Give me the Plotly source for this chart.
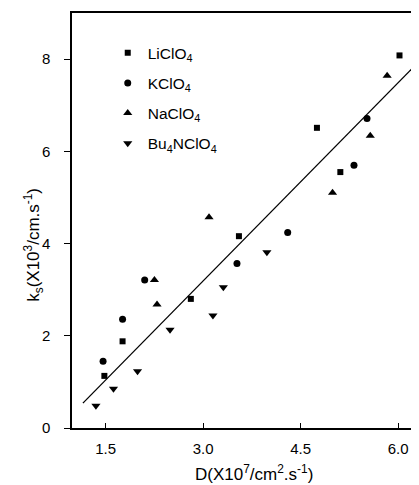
import plotly.graph_objects as go

# Data
li_x = [1.48, 1.76, 2.81, 3.55, 4.75, 5.11, 6.02]
li_y = [1.13, 1.88, 2.80, 4.16, 6.51, 5.55, 8.08]

k_x = [1.46, 1.76, 2.10, 3.52, 4.30, 5.32, 5.52]
k_y = [1.45, 2.36, 3.21, 3.57, 4.24, 5.70, 6.71]

na_x = [2.25, 2.29, 3.09, 4.99, 5.57, 5.83]
na_y = [3.21, 2.68, 4.57, 5.10, 6.34, 7.64]

bu_x = [1.35, 1.62, 1.99, 2.49, 3.15, 3.31, 3.98]
bu_y = [0.48, 0.85, 1.23, 2.13, 2.44, 3.05, 3.81]

fit_x = [1.15, 6.21]
fit_y = [0.54, 7.79]

x_ticks = [1.5, 3.0, 4.5, 6.0]
x_tick_labels = ["1.5", "3.0", "4.5", "6.0"]
y_ticks = [0, 2, 4, 6, 8]

FONT = "Liberation Sans, Arial, sans-serif"

fig = go.Figure()
series = [
    (li_x, li_y, "LiClO<sub>4</sub>", "square", 6),
    (k_x, k_y, "KClO<sub>4</sub>", "circle", 7),
    (na_x, na_y, "NaClO<sub>4</sub>", "triangle-up", 8),
    (bu_x, bu_y, "Bu<sub>4</sub>NClO<sub>4</sub>", "triangle-down", 8),
]
for i, (xs, ys, name, sym, sz) in enumerate(series):
    fig.add_trace(go.Scatter(x=xs, y=ys, mode="markers", name=name,
                             legendgroup=f"g{i}",
                             marker=dict(symbol=sym, size=sz, color="black")))

fig.add_trace(go.Scatter(x=fit_x, y=fit_y, mode="lines", showlegend=False,
                         line=dict(color="black", width=1.3)))

fig.update_layout(
    width=411, height=477,
    margin=dict(l=64, r=0, t=5, b=57),
    paper_bgcolor="white", plot_bgcolor="white",
    font=dict(family=FONT, size=13, color="black"),
    legend=dict(x=0.103, y=0.944, xanchor="left", yanchor="top",
                bgcolor="rgba(0,0,0,0)", font=dict(size=15.5),
                itemwidth=30, tracegroupgap=7),
    xaxis=dict(range=[0.982, 6.32], tickvals=x_ticks, ticktext=x_tick_labels,
               ticks="inside", ticklen=5, tickwidth=1, tickcolor="black",
               showline=True, linecolor="black", linewidth=1.5, mirror=True,
               showgrid=False, zeroline=False, ticklabelstandoff=6,
               tickfont=dict(size=15)),
    yaxis=dict(range=[0, 9], tickvals=y_ticks,
               ticks="outside", ticklen=6, tickwidth=1, tickcolor="black",
               showline=True, linecolor="black", linewidth=1.5, mirror=False,
               showgrid=False, zeroline=False, ticklabelstandoff=11,
               tickfont=dict(size=15)),
    annotations=[
        dict(text="D(X10<sup>7</sup>/cm<sup>2</sup>.s<sup>-1</sup>)",
             xref="paper", yref="paper", x=(254 - 72) / 347, y=-0.108,
             xanchor="center", yanchor="middle", showarrow=False,
             font=dict(size=17)),
        dict(text="k<sub>s</sub>(X10<sup>3</sup>/cm.s<sup>-1</sup>)",
             xref="paper", yref="paper", x=-0.11, y=0.441,
             xanchor="center", yanchor="middle", showarrow=False, textangle=-90,
             font=dict(size=17)),
    ],
)

fig.write_html("out.html")
